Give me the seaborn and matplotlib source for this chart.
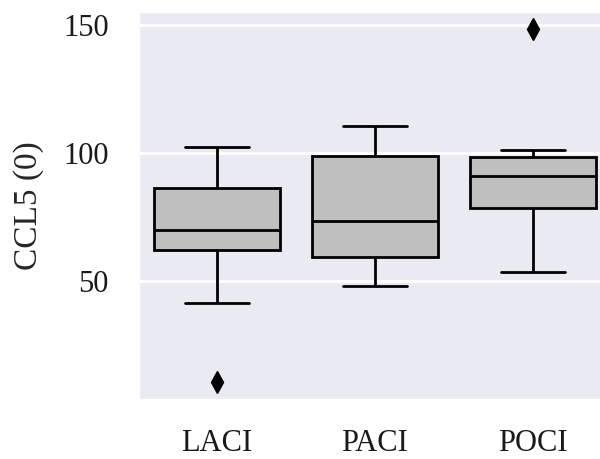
import pandas as pd
import matplotlib
matplotlib.use("Agg")
import matplotlib.pyplot as plt
import seaborn as sns

# ------------------------------------------------------------
# Data
# ------------------------------------------------------------
groups = ["LACI", "PACI", "POCI"]
laci = [10.5, 41.4, 62.1, 66.0, 70.0, 78.5, 86.4, 93.0, 102.4]
paci = [48.2, 55.0, 59.5, 66.0, 73.4, 88.0, 98.9, 104.0, 110.4]
poci = [53.6, 72.0, 78.7, 86.0, 91.2, 95.0, 98.5, 101.2, 148.5]

df = pd.DataFrame({
    "group": ["LACI"] * len(laci) + ["PACI"] * len(paci) + ["POCI"] * len(poci),
    "value": laci + paci + poci,
})

# ------------------------------------------------------------
# Plot
# ------------------------------------------------------------
sns.set_theme(style="darkgrid", context="poster")
plt.rcParams["font.family"] = ["Liberation Serif", "DejaVu Serif"]

fig = plt.figure(figsize=(6, 4.59), dpi=100)
ax = fig.add_axes([0.23, 0.1285, 0.79, 0.8475])

sns.boxplot(
    data=df, x="group", y="value", order=groups, ax=ax,
    color="#bfbfbf", linecolor="black", linewidth=2, saturation=1,
    flierprops=dict(marker="d", markerfacecolor="black",
                    markeredgecolor="black", markersize=11),
)

ax.set_xlabel("")
ax.set_ylabel("CCL5 (0)", fontsize=24, labelpad=14)
ax.set_yticks([50, 100, 150])
ax.tick_params(axis="both", labelsize=22, pad=9, labelcolor="#1a1a1a")

fig.savefig("out.png", dpi=100)
